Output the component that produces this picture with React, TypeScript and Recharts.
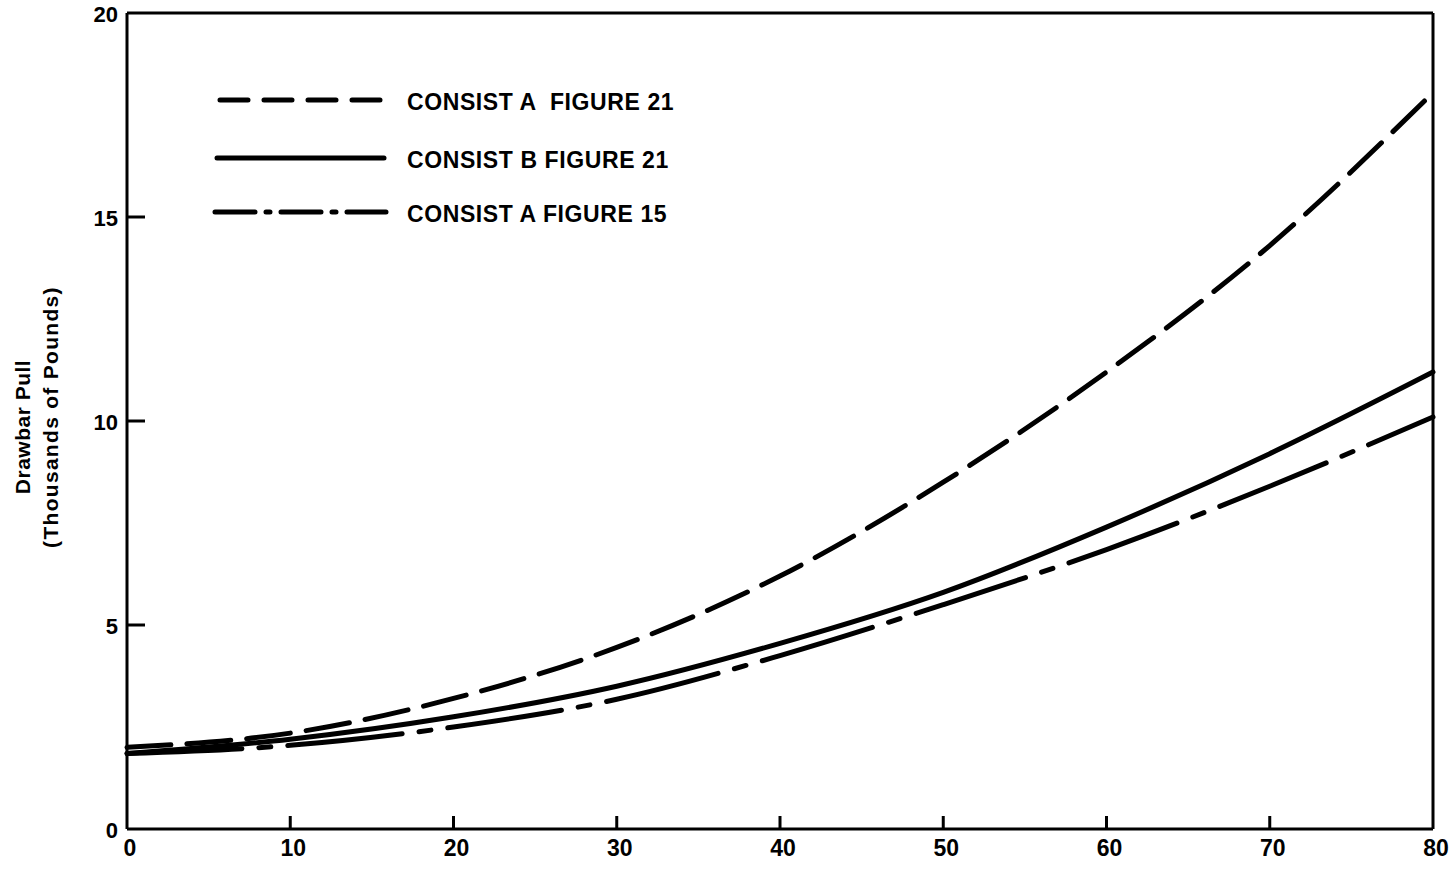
import React from 'react';
import { LineChart, Line, XAxis, YAxis, ReferenceLine } from 'recharts';

// speed (mph) sampled every 10
const speeds = [0, 10, 20, 30, 40, 50, 60, 70, 80];
// drawbar pull, thousands of pounds
const consistA21 = [2.0, 2.35, 3.2, 4.45, 6.2, 8.5, 11.2, 14.3, 18.05];
const consistB21 = [1.85, 2.2, 2.75, 3.5, 4.55, 5.8, 7.4, 9.2, 11.2];
const consistA15 = [1.85, 2.05, 2.5, 3.18, 4.25, 5.5, 6.85, 8.4, 10.1];

const xTicks = [0, 10, 20, 30, 40, 50, 60, 70, 80];
const yTicks = [0, 5, 10, 15, 20];

const legendItems = [
  { label: 'CONSIST A  FIGURE 21', dash: '28 16' },
  { label: 'CONSIST B FIGURE 21', dash: undefined },
  { label: 'CONSIST A FIGURE 15', dash: '40 11 4 11' },
];

const data = speeds.map((s, i) => ({
  speed: s,
  a21: consistA21[i],
  b21: consistB21[i],
  a15: consistA15[i],
}));

const W = 1450;
const H = 870;
const PLOT_LEFT = 127;
const PLOT_BOTTOM = 829;
const FONT = '"Liberation Sans", Arial, sans-serif';

const XTick = (props: any) => {
  const { x, payload } = props;
  const v = payload.value;
  return (
    <g>
      {v !== 0 && v !== 80 && (
        <line x1={x} x2={x} y1={PLOT_BOTTOM} y2={PLOT_BOTTOM - 13} stroke="#000" strokeWidth={3} />
      )}
      <text
        x={x + 3}
        y={848}
        textAnchor="middle"
        dominantBaseline="central"
        fontFamily={FONT}
        fontWeight="bold"
        fontSize={23}
        fill="#000"
      >
        {v}
      </text>
    </g>
  );
};

const YTick = (props: any) => {
  const { y, payload } = props;
  const v = payload.value;
  return (
    <g>
      {v !== 0 && v !== 20 && (
        <line x1={PLOT_LEFT} x2={PLOT_LEFT + 18} y1={y} y2={y} stroke="#000" strokeWidth={3} />
      )}
      <text
        x={118}
        y={y + 1}
        textAnchor="end"
        dominantBaseline="central"
        fontFamily={FONT}
        fontWeight="bold"
        fontSize={22}
        fill="#000"
      >
        {v}
      </text>
    </g>
  );
};

const YLabel = () => (
  <g fontFamily={FONT} fontWeight="bold" fontSize={21} fill="#000">
    <text
      x={22}
      y={427}
      transform="rotate(-90 22 427)"
      textAnchor="middle"
      dominantBaseline="central"
      letterSpacing={0.5}
    >
      Drawbar Pull
    </text>
    <text
      x={50}
      y={417}
      transform="rotate(-90 50 417)"
      textAnchor="middle"
      dominantBaseline="central"
      letterSpacing={1.3}
    >
      (Thousands of Pounds)
    </text>
  </g>
);

export default function App() {
  return (
    <div style={{ position: 'absolute', left: 0, top: 0, width: W, height: H, background: '#fff' }}>
      <LineChart width={W} height={H} data={data} margin={{ top: 13, right: 17, bottom: 0, left: 0 }}>
        <XAxis
          dataKey="speed"
          type="number"
          domain={[0, 80]}
          ticks={xTicks}
          height={41}
          tickLine={false}
          axisLine={{ stroke: '#000', strokeWidth: 3 }}
          tick={<XTick />}
          interval={0}
        />
        <YAxis
          type="number"
          domain={[0, 20]}
          ticks={yTicks}
          width={127}
          tickLine={false}
          axisLine={{ stroke: '#000', strokeWidth: 3 }}
          tick={<YTick />}
          interval={0}
          label={<YLabel />}
        />
        <ReferenceLine y={20} stroke="#000" strokeWidth={3} />
        <ReferenceLine x={80} stroke="#000" strokeWidth={3} />
        <Line
          type="monotone"
          dataKey="a21"
          stroke="#000"
          strokeWidth={5}
          strokeDasharray="44 16"
          strokeLinecap="round"
          dot={false}
          isAnimationActive={false}
        />
        <Line
          type="monotone"
          dataKey="b21"
          stroke="#000"
          strokeWidth={5}
          strokeLinecap="round"
          dot={false}
          isAnimationActive={false}
        />
        <Line
          type="monotone"
          dataKey="a15"
          stroke="#000"
          strokeWidth={5}
          strokeDasharray="115 17 12 17"
          strokeLinecap="round"
          dot={false}
          isAnimationActive={false}
        />
      </LineChart>
      <svg
        width={500}
        height={150}
        style={{ position: 'absolute', left: 200, top: 80, overflow: 'visible' }}
      >
        {legendItems.map((item, i) => {
          const ly = [20, 78, 132][i];
          return (
            <g key={item.label}>
              <line
                x1={[20, 17, 15][i]}
                x2={[186, 184, 186][i]}
                y1={ly}
                y2={ly}
                stroke="#000"
                strokeWidth={5}
                strokeLinecap="round"
                strokeDasharray={item.dash}
              />
              <text
                x={207}
                y={ly + 2}
                dominantBaseline="central"
                fontFamily={FONT}
                fontWeight="bold"
                fontSize={23}
                letterSpacing={0.6}
                fill="#000"
                style={{ whiteSpace: 'pre' }}
              >
                {item.label}
              </text>
            </g>
          );
        })}
      </svg>
    </div>
  );
}
